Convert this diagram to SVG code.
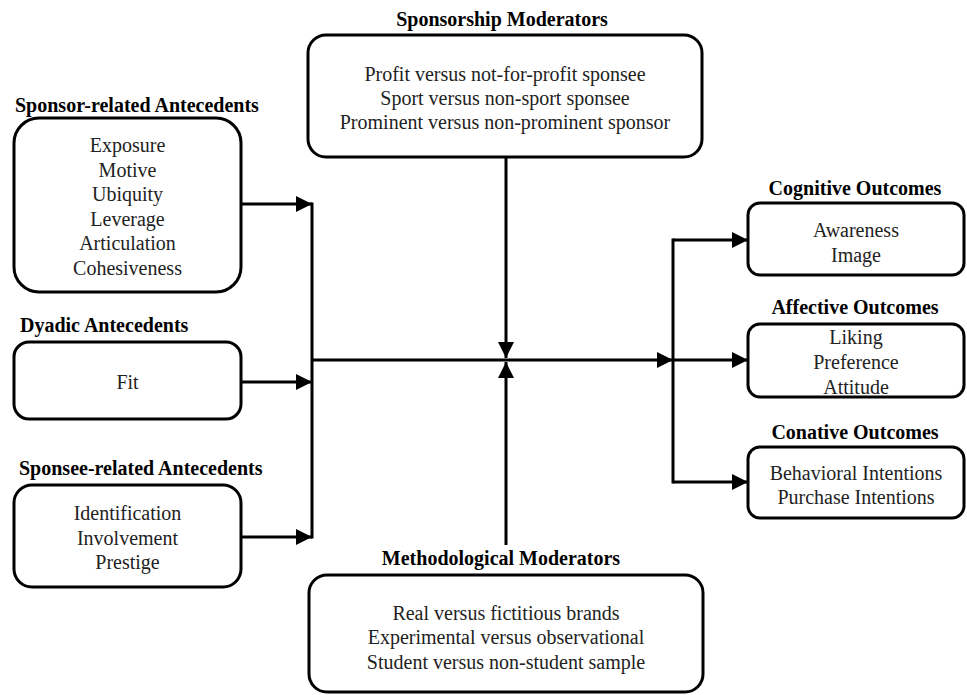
<svg xmlns="http://www.w3.org/2000/svg" width="967" height="695" viewBox="0 0 967 695">
<style>
.box{fill:#fff;stroke:#000;stroke-width:3}
.t{font-family:"Liberation Serif","Times New Roman",serif;font-size:20px;fill:#222;text-anchor:middle}
.h{font-family:"Liberation Serif","Times New Roman",serif;font-size:20px;font-weight:bold;fill:#000}
.c{stroke:#000;stroke-width:3;fill:none}
</style>
<defs>
<marker id="ah" markerUnits="userSpaceOnUse" markerWidth="16" markerHeight="16" refX="16" refY="8" orient="auto">
<path d="M0,0 L16,8 L0,16 z" fill="#000"/>
</marker>
</defs>
<rect width="967" height="695" fill="#fff"/>
<g id="connectors">
<line class="c" x1="241" y1="204" x2="312" y2="204" marker-end="url(#ah)"/>
<line class="c" x1="241" y1="382" x2="312" y2="382" marker-end="url(#ah)"/>
<line class="c" x1="241" y1="537" x2="312" y2="537" marker-end="url(#ah)"/>
<line class="c" x1="312" y1="202.5" x2="312" y2="538.5"/>
<line class="c" x1="312" y1="360" x2="673" y2="360" marker-end="url(#ah)"/>
<line class="c" x1="673" y1="238.5" x2="673" y2="483.5"/>
<line class="c" x1="673" y1="240" x2="748" y2="240" marker-end="url(#ah)"/>
<line class="c" x1="673" y1="360" x2="748" y2="360" marker-end="url(#ah)"/>
<line class="c" x1="673" y1="482" x2="748" y2="482" marker-end="url(#ah)"/>
<line class="c" x1="506" y1="157" x2="506" y2="358" marker-end="url(#ah)"/>
<line class="c" x1="506" y1="545" x2="506" y2="362" marker-end="url(#ah)"/>
</g>
<g id="sponsor">
<text class="h" x="15" y="112">Sponsor-related Antecedents</text>
<rect class="box" x="14" y="118" width="227" height="174" rx="25"/>
<text class="t" x="127.5" y="152">Exposure</text>
<text class="t" x="127.5" y="176.5">Motive</text>
<text class="t" x="127.5" y="201">Ubiquity</text>
<text class="t" x="127.5" y="225.5">Leverage</text>
<text class="t" x="127.5" y="250">Articulation</text>
<text class="t" x="127.5" y="274.5">Cohesiveness</text>
</g>
<g id="dyadic">
<text class="h" x="20" y="332">Dyadic Antecedents</text>
<rect class="box" x="14" y="342" width="227" height="77" rx="15"/>
<text class="t" x="127.5" y="389">Fit</text>
</g>
<g id="sponsee">
<text class="h" x="19" y="475">Sponsee-related Antecedents</text>
<rect class="box" x="14" y="485" width="227" height="102" rx="18"/>
<text class="t" x="127.5" y="520">Identification</text>
<text class="t" x="127.5" y="545">Involvement</text>
<text class="t" x="127.5" y="569">Prestige</text>
</g>
<g id="sponsorship-moderators">
<text class="h" x="502" y="26" text-anchor="middle">Sponsorship Moderators</text>
<rect class="box" x="308" y="35" width="394" height="122" rx="18"/>
<text class="t" x="505" y="81">Profit versus not-for-profit sponsee</text>
<text class="t" x="505" y="105">Sport versus non-sport sponsee</text>
<text class="t" x="505" y="129">Prominent versus non-prominent sponsor</text>
</g>
<g id="methodological-moderators">
<text class="h" x="501" y="565" text-anchor="middle">Methodological Moderators</text>
<rect class="box" x="309" y="575" width="394" height="117" rx="18"/>
<text class="t" x="506" y="620">Real versus fictitious brands</text>
<text class="t" x="506" y="644">Experimental versus observational</text>
<text class="t" x="506" y="669">Student versus non-student sample</text>
</g>
<g id="cognitive">
<text class="h" x="855" y="195" text-anchor="middle">Cognitive Outcomes</text>
<rect class="box" x="748" y="203" width="216" height="72" rx="12"/>
<text class="t" x="856" y="237">Awareness</text>
<text class="t" x="856" y="262">Image</text>
</g>
<g id="affective">
<text class="h" x="855" y="314" text-anchor="middle">Affective Outcomes</text>
<rect class="box" x="748" y="324" width="216" height="73" rx="12"/>
<text class="t" x="856" y="344">Liking</text>
<text class="t" x="856" y="369">Preference</text>
<text class="t" x="856" y="394">Attitude</text>
</g>
<g id="conative">
<text class="h" x="855" y="439" text-anchor="middle">Conative Outcomes</text>
<rect class="box" x="748" y="447" width="216" height="71" rx="12"/>
<text class="t" x="856" y="480">Behavioral Intentions</text>
<text class="t" x="856" y="504">Purchase Intentions</text>
</g>
</svg>
